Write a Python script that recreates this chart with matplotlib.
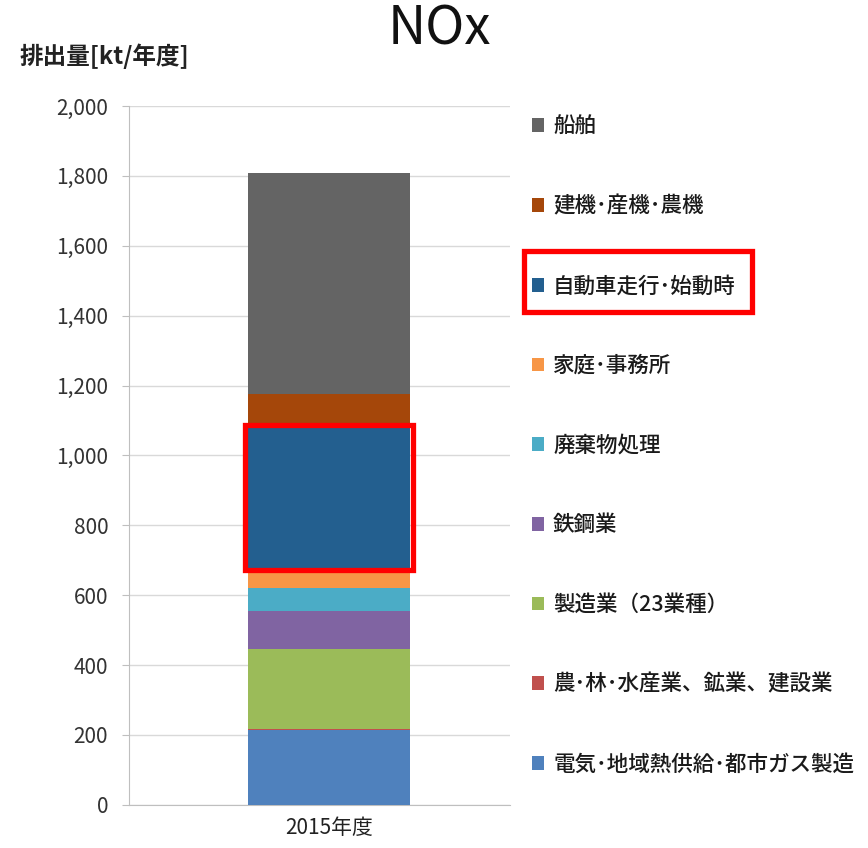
import matplotlib
matplotlib.use("Agg")
import matplotlib.pyplot as plt
from matplotlib.patches import Rectangle, Patch
from matplotlib.ticker import FuncFormatter
import numpy as np

plt.rcParams['font.family'] = ['Noto Sans CJK JP', 'DejaVu Sans']

# 2015年度 NOx 排出量 (kt/年度), 下から積み上げ順
sectors = ['電気･地域熱供給･都市ガス製造', '農･林･水産業、鉱業、建設業', '製造業（23業種）',
           '鉄鋼業', '廃棄物処理', '家庭･事務所', '自動車走行･始動時', '建機･産機･農機', '船舶']
values = [214, 3, 229, 108, 66, 52, 414, 91, 632]
colors = ['#4F81BD', '#C0504D', '#9BBB59', '#8064A2', '#4BACC6', '#F79646',
          '#235F8F', '#A5470A', '#646464']
years = ['2015年度']
highlight = '自動車走行･始動時'

fig = plt.figure(figsize=(8.68, 8.48), dpi=100)
ax = fig.add_axes([0.1486, 0.051, 0.439, 0.824])

bar_x = 0.025
bar_w = 0.423
bottom = 0
for name, v, c in zip(sectors, values, colors):
    ax.bar(bar_x, v, bar_w, bottom=bottom, color=c, zorder=3, label=name)
    if name == highlight:
        # 注目セクターを赤枠で囲む
        ax.add_patch(Rectangle((bar_x - bar_w / 2 - 0.008, bottom), bar_w + 0.016, v,
                               fill=False, edgecolor='#FF0000', lw=3.8, zorder=5,
                               clip_on=False))
    bottom += v

ax.set_xlim(-0.5, 0.5)
ax.set_ylim(0, 2000)
ax.set_yticks(np.arange(0, 2001, 200))
ax.yaxis.set_major_formatter(FuncFormatter(lambda v, p: f'{int(v):,}'))
ax.set_xticks([bar_x])
ax.set_xticklabels(years)
ax.tick_params(axis='y', labelsize=15, length=5, color='#BFBFBF', labelcolor='#333333', pad=10)
ax.tick_params(axis='x', labelsize=15, length=0, labelcolor='#222222', pad=9)
ax.grid(axis='y', color='#D9D9D9', lw=1, zorder=0)
for s in ['top', 'right']:
    ax.spines[s].set_visible(False)
ax.spines['left'].set_color('#BFBFBF')
ax.spines['bottom'].set_color('#BFBFBF')

fig.text(0.506, 0.947, 'NOx', fontsize=38, ha='center', va='baseline', color='#111111')
fig.text(0.022, 0.934, '排出量[kt/年度]', fontsize=17, fontweight='bold',
         ha='left', va='center', color='#222222')

handles = [Patch(facecolor=c, edgecolor='none') for c in colors][::-1]
labels = sectors[::-1]
leg = fig.legend(handles, labels, loc='upper left', bbox_to_anchor=(0.6025, 0.8735),
                 frameon=False, prop={'size': 15.5, 'weight': 'medium'},
                 labelspacing=2.68, handlelength=0.6, handleheight=0.6,
                 handletextpad=0.4, borderaxespad=0)
for t in leg.get_texts():
    t.set_color('#1a1a1a')

fig.add_artist(Rectangle((524 / 868, 1 - 312 / 848), 228 / 868, 61 / 848,
                         transform=fig.transFigure, fill=False,
                         edgecolor='#FF0000', lw=3.8))

fig.savefig('out.png', dpi=100)
